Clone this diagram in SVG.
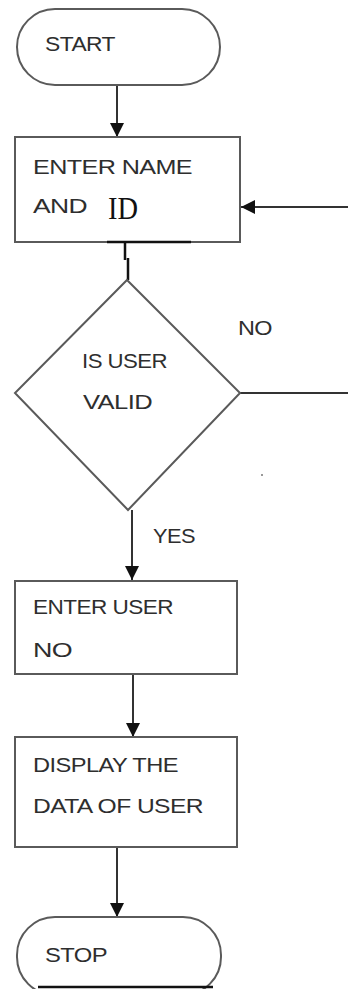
<svg xmlns="http://www.w3.org/2000/svg" width="348" height="989" viewBox="0 0 348 989">
<defs>
<style>
.shape{fill:#fff;stroke:#5a5a5a;stroke-width:2}
.t{font-family:"Liberation Sans",Arial,sans-serif;font-size:21px;fill:#2e2e2e;letter-spacing:-0.5px}
.id{font-family:"Liberation Serif","Times New Roman",serif;font-size:32px;fill:#111}
.c{fill:none;stroke:#333;stroke-width:2}
.k{fill:none;stroke:#111;stroke-width:2.5}
</style>
<marker id="ah" viewBox="0 0 14 14" refX="14" refY="7" markerWidth="14" markerHeight="14" markerUnits="userSpaceOnUse" orient="auto">
<path d="M0,0 L14,7 L0,14 Z" fill="#111"/>
</marker>
</defs>
<rect width="348" height="989" fill="#fff"/>
<g id="connectors">
<line class="c" x1="117" y1="85" x2="117" y2="137" marker-end="url(#ah)"/>
<line class="c" x1="348" y1="207" x2="241" y2="207" marker-end="url(#ah)"/>
<path class="k" d="M125,242 V260 M128,258 V280"/>
<line class="c" x1="240" y1="393" x2="348" y2="393"/>
<line class="c" x1="132" y1="510" x2="132" y2="580" marker-end="url(#ah)"/>
<line class="c" x1="133" y1="674" x2="133" y2="737" marker-end="url(#ah)"/>
<line class="c" x1="117" y1="847" x2="117" y2="917" marker-end="url(#ah)"/>
</g>
<g id="start">
<rect class="shape" x="17" y="9" width="203" height="76" rx="38" ry="38"/>
<text class="t" x="45" y="51" textLength="70" lengthAdjust="spacingAndGlyphs">START</text>
</g>
<g id="enter-name">
<rect class="shape" x="15" y="137" width="225" height="105"/>
<line x1="107" y1="242" x2="191" y2="242" stroke="#111" stroke-width="2.5"/>
<text class="t" x="33" y="174" textLength="159" lengthAdjust="spacingAndGlyphs">ENTER NAME</text>
<text class="t" x="33" y="213" textLength="54" lengthAdjust="spacingAndGlyphs">AND</text>
<text class="id" x="108" y="219" textLength="30" lengthAdjust="spacingAndGlyphs">ID</text>
</g>
<g id="is-user-valid">
<polygon class="shape" points="127,280 240,393 128,510 15,393"/>
<text class="t" x="82" y="368" textLength="85" lengthAdjust="spacingAndGlyphs">IS USER</text>
<text class="t" x="83" y="409" textLength="69" lengthAdjust="spacingAndGlyphs">VALID</text>
</g>
<g id="labels">
<text class="t" x="238" y="335" textLength="34" lengthAdjust="spacingAndGlyphs">NO</text>
<text class="t" x="153" y="543" textLength="42" lengthAdjust="spacingAndGlyphs">YES</text>
<circle cx="262" cy="475" r="1" fill="#777"/>
</g>
<g id="enter-user">
<rect class="shape" x="15" y="581" width="222" height="93"/>
<text class="t" x="33" y="614" textLength="140" lengthAdjust="spacingAndGlyphs">ENTER USER</text>
<text class="t" x="33" y="657" textLength="39" lengthAdjust="spacingAndGlyphs">NO</text>
</g>
<g id="display">
<rect class="shape" x="15" y="737" width="222" height="110"/>
<text class="t" x="33" y="772" textLength="145" lengthAdjust="spacingAndGlyphs">DISPLAY THE</text>
<text class="t" x="33" y="813" textLength="170" lengthAdjust="spacingAndGlyphs">DATA OF USER</text>
</g>
<g id="stop">
<rect class="shape" x="17" y="917" width="204" height="78" rx="38" ry="38"/>
<line x1="38" y1="987" x2="213" y2="987" stroke="#111" stroke-width="2.5"/>
<text class="t" x="45" y="962" textLength="62" lengthAdjust="spacingAndGlyphs">STOP</text>
</g>
</svg>
